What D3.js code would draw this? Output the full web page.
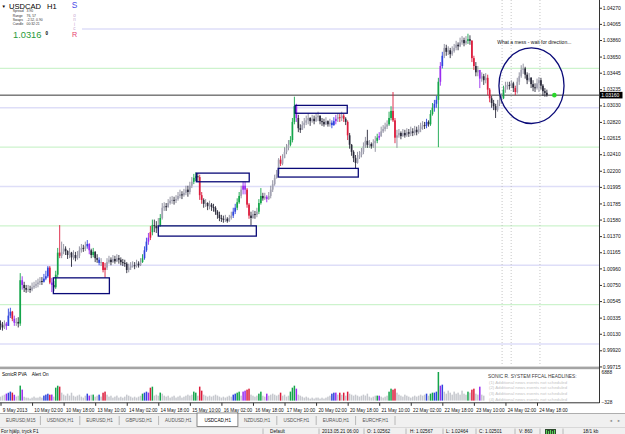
<!DOCTYPE html>
<html><head><meta charset="utf-8">
<script src="https://cdn.jsdelivr.net/npm/d3@7"></script>
<style>
body{margin:0;background:#fff;overflow:hidden}
svg text{font-family:"Liberation Sans",Arial,sans-serif}
</style>
</head><body>
<svg id="c" width="625" height="434"></svg>
<script>
// ---------------- DATA ----------------
const closes = [1.0024,1.0021,1.0026,1.0023,1.0036,1.0041,1.0032,1.0027,1.0028,1.0026,
1.0081,1.0075,1.0071,1.0069,1.0070,1.0069,1.0072,1.0074,1.0076,1.0078,
1.0080,1.0079,1.0083,1.0086,1.0097,1.0078,1.0075,1.0072,1.0088,1.0116,
1.0112,1.0117,1.0121,1.0118,1.0113,1.0116,1.0110,1.0113,1.0109,1.0112,
1.0119,1.0122,1.0121,1.0124,1.0127,1.0119,1.0113,1.0117,1.0109,1.0107,
1.0103,1.0104,1.0094,1.0097,1.0104,1.0107,1.0104,1.0108,1.0105,1.0109,
1.0107,1.0104,1.0103,1.0102,1.0094,1.0097,1.0099,1.0100,1.0099,1.0102,
1.0100,1.0104,1.0109,1.0119,1.0130,1.0135,1.0142,1.0151,1.0150,1.0147,
1.0151,1.0160,1.0173,1.0175,1.0174,1.0179,1.0182,1.0183,1.0182,1.0184,
1.0188,1.0190,1.0189,1.0192,1.0196,1.0193,1.0201,1.0206,1.0211,1.0213,
1.0212,1.0189,1.0183,1.0178,1.0179,1.0175,1.0177,1.0174,1.0173,1.0168,
1.0164,1.0160,1.0159,1.0158,1.0159,1.0156,1.0160,1.0163,1.0168,1.0173,
1.0180,1.0188,1.0196,1.0201,1.0196,1.0177,1.0163,1.0160,1.0165,1.0164,
1.0168,1.0179,1.0188,1.0185,1.0187,1.0184,1.0188,1.0196,1.0203,1.0211,
1.0216,1.0234,1.0229,1.0236,1.0244,1.0249,1.0253,1.0259,1.0282,1.0302,
1.0287,1.0274,1.0272,1.0278,1.0281,1.0284,1.0287,1.0283,1.0286,1.0283,
1.0288,1.0290,1.0283,1.0282,1.0279,1.0283,1.0279,1.0281,1.0278,1.0283,
1.0286,1.0288,1.0287,1.0290,1.0286,1.0282,1.0265,1.0253,1.0244,1.0236,
1.0230,1.0237,1.0240,1.0244,1.0251,1.0258,1.0253,1.0254,1.0251,1.0255,
1.0258,1.0262,1.0264,1.0270,1.0273,1.0276,1.0279,1.0287,1.0296,1.0284,
1.0262,1.0265,1.0268,1.0264,1.0268,1.0265,1.0269,1.0267,1.0270,1.0268,
1.0272,1.0269,1.0273,1.0276,1.0278,1.0277,1.0282,1.0279,1.0292,1.0300,
1.0305,1.0310,1.0333,1.0353,1.0366,1.0376,1.0371,1.0373,1.0368,1.0372,
1.0376,1.0380,1.0378,1.0383,1.0386,1.0382,1.0385,1.0387,1.0385,1.0363,
1.0353,1.0345,1.0348,1.0337,1.0340,1.0335,1.0338,1.0323,1.0312,1.0306,
1.0302,1.0297,1.0305,1.0310,1.0312,1.0323,1.0326,1.0329,1.0328,1.0331,
1.0325,1.0320,1.0333,1.0340,1.0348,1.0350,1.0342,1.0335,1.0338,1.0330,
1.0326,1.0325,1.0331,1.0335,1.0328,1.0321,1.0319,1.0316];
const highs = [1.0030,1.0028,1.0030,1.0028,1.0045,1.0046,1.0042,1.0036,1.0033,1.0034,
1.0090,1.0086,1.0079,1.0075,1.0075,1.0074,1.0078,1.0079,1.0081,1.0083,
1.0085,1.0085,1.0089,1.0093,1.0099,1.0099,1.0084,1.0080,1.0093,1.0122,
1.0151,1.0130,1.0127,1.0124,1.0119,1.0122,1.0117,1.0119,1.0117,1.0118,
1.0124,1.0127,1.0126,1.0130,1.0132,1.0128,1.0121,1.0122,1.0118,1.0114,
1.0110,1.0109,1.0104,1.0103,1.0109,1.0112,1.0110,1.0113,1.0112,1.0114,
1.0113,1.0110,1.0108,1.0107,1.0104,1.0102,1.0104,1.0105,1.0104,1.0107,
1.0105,1.0109,1.0114,1.0124,1.0135,1.0141,1.0150,1.0158,1.0158,1.0156,
1.0160,1.0165,1.0179,1.0180,1.0179,1.0184,1.0187,1.0188,1.0187,1.0189,
1.0193,1.0196,1.0194,1.0197,1.0201,1.0201,1.0206,1.0212,1.0216,1.0218,
1.0217,1.0215,1.0193,1.0185,1.0184,1.0180,1.0182,1.0179,1.0178,1.0175,
1.0170,1.0168,1.0164,1.0163,1.0164,1.0161,1.0164,1.0168,1.0173,1.0178,
1.0185,1.0193,1.0201,1.0206,1.0206,1.0198,1.0179,1.0168,1.0170,1.0169,
1.0173,1.0184,1.0198,1.0192,1.0192,1.0189,1.0193,1.0201,1.0208,1.0215,
1.0221,1.0236,1.0239,1.0241,1.0250,1.0254,1.0259,1.0264,1.0287,1.0314,
1.0305,1.0291,1.0279,1.0283,1.0287,1.0290,1.0293,1.0288,1.0291,1.0290,
1.0293,1.0295,1.0290,1.0287,1.0286,1.0288,1.0284,1.0286,1.0284,1.0288,
1.0291,1.0293,1.0292,1.0295,1.0292,1.0288,1.0284,1.0268,1.0254,1.0246,
1.0240,1.0244,1.0245,1.0249,1.0256,1.0263,1.0272,1.0259,1.0256,1.0260,
1.0264,1.0267,1.0269,1.0276,1.0278,1.0281,1.0284,1.0295,1.0302,1.0320,
1.0287,1.0272,1.0273,1.0270,1.0273,1.0272,1.0274,1.0273,1.0276,1.0274,
1.0277,1.0276,1.0278,1.0281,1.0283,1.0282,1.0286,1.0284,1.0297,1.0306,
1.0310,1.0315,1.0338,1.0358,1.0371,1.0381,1.0380,1.0378,1.0376,1.0378,
1.0381,1.0385,1.0383,1.0389,1.0391,1.0389,1.0391,1.0394,1.0392,1.0386,
1.0366,1.0358,1.0353,1.0348,1.0345,1.0343,1.0344,1.0342,1.0325,1.0315,
1.0310,1.0305,1.0310,1.0315,1.0318,1.0328,1.0333,1.0333,1.0333,1.0335,
1.0333,1.0328,1.0338,1.0345,1.0354,1.0356,1.0352,1.0345,1.0344,1.0339,
1.0335,1.0331,1.0337,1.0339,1.0338,1.0330,1.0325,1.0323];
const lows = [1.0018,1.0017,1.0019,1.0018,1.0023,1.0033,1.0029,1.0023,1.0023,1.0021,
1.0023,1.0069,1.0066,1.0065,1.0066,1.0065,1.0067,1.0070,1.0071,1.0072,
1.0075,1.0075,1.0078,1.0081,1.0084,1.0076,1.0066,1.0067,1.0070,1.0085,
1.0109,1.0109,1.0114,1.0113,1.0108,1.0109,1.0098,1.0107,1.0105,1.0107,
1.0109,1.0116,1.0117,1.0118,1.0121,1.0114,1.0109,1.0110,1.0104,1.0103,
1.0100,1.0099,1.0091,1.0084,1.0094,1.0102,1.0100,1.0103,1.0102,1.0104,
1.0102,1.0100,1.0099,1.0098,1.0090,1.0091,1.0094,1.0097,1.0095,1.0097,
1.0097,1.0099,1.0103,1.0107,1.0117,1.0126,1.0132,1.0138,1.0142,1.0141,
1.0144,1.0149,1.0158,1.0169,1.0169,1.0173,1.0177,1.0178,1.0177,1.0179,
1.0182,1.0185,1.0184,1.0187,1.0189,1.0187,1.0190,1.0198,1.0203,1.0207,
1.0206,1.0183,1.0178,1.0173,1.0174,1.0170,1.0171,1.0169,1.0168,1.0164,
1.0159,1.0156,1.0155,1.0154,1.0155,1.0154,1.0155,1.0158,1.0160,1.0165,
1.0170,1.0178,1.0185,1.0190,1.0190,1.0173,1.0159,1.0151,1.0159,1.0159,
1.0161,1.0165,1.0177,1.0182,1.0183,1.0180,1.0183,1.0185,1.0193,1.0201,
1.0210,1.0212,1.0226,1.0227,1.0236,1.0241,1.0246,1.0251,1.0256,1.0279,
1.0282,1.0269,1.0268,1.0272,1.0274,1.0278,1.0279,1.0277,1.0281,1.0279,
1.0282,1.0283,1.0279,1.0277,1.0276,1.0278,1.0276,1.0276,1.0274,1.0277,
1.0279,1.0282,1.0282,1.0283,1.0282,1.0278,1.0259,1.0248,1.0239,1.0231,
1.0223,1.0229,1.0235,1.0237,1.0241,1.0249,1.0249,1.0249,1.0248,1.0249,
1.0244,1.0255,1.0259,1.0263,1.0268,1.0270,1.0273,1.0277,1.0284,1.0282,
1.0255,1.0249,1.0262,1.0260,1.0263,1.0262,1.0263,1.0263,1.0264,1.0264,
1.0265,1.0265,1.0267,1.0269,1.0272,1.0273,1.0274,1.0276,1.0277,1.0290,
1.0295,1.0300,1.0250,1.0328,1.0350,1.0363,1.0366,1.0367,1.0363,1.0366,
1.0370,1.0373,1.0373,1.0377,1.0380,1.0378,1.0380,1.0381,1.0380,1.0358,
1.0348,1.0340,1.0340,1.0325,1.0333,1.0329,1.0331,1.0316,1.0307,1.0300,
1.0297,1.0287,1.0295,1.0302,1.0305,1.0311,1.0319,1.0323,1.0323,1.0325,
1.0320,1.0316,1.0318,1.0329,1.0338,1.0343,1.0337,1.0330,1.0333,1.0325,
1.0321,1.0320,1.0323,1.0320,1.0323,1.0315,1.0314,1.0314];
const firstOpen = 1.0026;
// SonicR PVA bar colouring: g climax bull, r climax bear, b rising bull, p rising bear
const pvaMarks = {3:'p',4:'b',5:'b',6:'r',7:'p',10:'g',11:'p',22:'b',23:'b',24:'b',25:'r',26:'p',28:'g',29:'g',30:'r',
44:'b',45:'p',47:'g',50:'b',52:'r',53:'r',72:'g',73:'b',74:'b',75:'p',76:'r',77:'g',81:'g',98:'g',99:'g',101:'r',102:'r',
118:'b',119:'b',120:'g',121:'g',123:'p',124:'p',125:'r',126:'r',131:'g',132:'g',135:'p',142:'r',147:'g',148:'g',149:'g',150:'p',
168:'b',169:'b',170:'p',172:'r',174:'r',176:'r',191:'g',192:'p',197:'g',198:'g',199:'r',200:'r',216:'b',218:'g',219:'g',
220:'b',221:'b',222:'g',223:'p',224:'b',237:'g',239:'r',240:'r',243:'p',247:'r',248:'r',255:'g',261:'r'};
const volumes = [950,1210,1430,1690,1900,2170,1930,1420,980,1190,
3610,2650,940,730,700,490,720,980,700,730,
960,720,1210,1450,1670,1430,1460,970,3120,3590,
3370,1920,1450,1190,1680,1210,1910,1180,950,1210,
1440,960,720,1190,1680,1210,1430,1450,960,1200,
1440,980,1910,2170,1430,970,1190,720,960,1210,
730,950,710,960,1440,1190,970,720,950,730,
960,1190,1680,1920,2160,1930,3120,3360,1210,1440,
1190,1930,1680,1200,960,1190,720,960,1190,730,
960,1200,720,950,1190,1440,1210,1430,2170,1920,
1200,3370,2400,1440,1190,960,1200,960,1190,1440,
1210,960,720,950,730,960,1190,960,1440,1680,
1920,2160,1200,2170,2400,2650,2880,1440,1190,960,
1210,1680,2160,1190,960,1680,1200,1440,1680,1430,
1200,1440,1920,1190,1440,960,1200,2170,3120,3600,
2880,1440,1200,960,720,960,730,480,720,490,
720,730,480,710,490,720,960,1200,1680,1920,
1930,1440,1910,1430,1920,1200,2160,1680,1440,1190,
1440,1200,960,1190,1440,1210,1680,960,720,960,
1200,1210,1190,960,720,960,1200,2160,2880,2640,
2880,1920,1440,1200,960,1440,1190,960,720,960,
1200,960,1190,1440,1200,1440,1680,1190,1680,1920,
1930,2160,6888,3600,3840,2160,1680,2400,1920,1440,
2170,1680,1920,1440,2400,1680,1430,2160,1920,2640,
2880,1680,1440,3360,1440,1200];
const priceTicks = [1.04270,1.04065,1.03860,1.03650,1.03445,1.03235,1.03030,1.02820,1.02615,1.02410,1.02200,
1.01995,1.01785,1.01580,1.01370,1.01165,1.00960,1.00750,1.00545,1.00335,1.00130,0.99920,0.99715];
const gridLevels = [1.0000,1.0050,1.0100,1.0150,1.0200,1.0250,1.0300,1.0350,1.0400];
const timeLabels = ["9 May 2013","10 May 02:00","10 May 18:00","13 May 10:00","14 May 02:00","14 May 18:00",
"15 May 10:00","16 May 02:00","16 May 18:00","17 May 10:00","20 May 02:00","20 May 18:00","21 May 10:00",
"22 May 02:00","22 May 18:00","23 May 10:00","24 May 02:00","24 May 18:00"];
const labelEvery = 16;
const currentPrice = 1.03160;
const volTicks = [6888,-328];
// analyst boxes: [startBar, endBar, topPrice, bottomPrice]
const boxes = [[26.8,55.2,1.0084,1.0064],[80,129.7,1.0150,1.0137],[99.3,126.1,1.0217,1.0206],
[140.8,181.4,1.0223,1.0212],[149.4,175.8,1.0303,1.0293]];
const ellipseMark = {bar:269.2, price:1.0328, halfBars:16.5, halfPrice:0.0048};
const note = {bar:251.8, price:1.0381, text:"What a mess - wait for direction..."};
const signalDot = {bar:280.8, price:1.0316};
const sessionLines = [254.3, 258.9, 273.5];
const tabs = ["EURUSD,M15","USDNOK,H1","EURUSD,H1","GBPUSD,H1","AUDUSD,H1","USDCAD,H1","NZDUSD,H1","USDCHF,H1","EURAUD,H1","EURCHF,H1"];
const activeTab = "USDCAD,H1";
const infoRows = [["Spread","3.90"],["Range","76, 57"],["Swaps","-2.52, 0.90"],["Candle","00:32:21"]];
const headlines = ["(1) Additional news events not scheduled","(2) Additional news events not scheduled",
"(3) Additional news events not scheduled","(4) Additional news events not scheduled"];
const statusFields = [["For hjälp, tryck F1",1],["Default",270],["2013.05.21 06:00",322],["O: 1.02562",367],
["H: 1.02567",410],["L: 1.02464",446],["C: 1.02501",479],["V: 860",519],["18/1 kb",583]];
const statusSeps = [263,319,364,406,443,476,515,540,563];

// ---------------- DRAW ----------------
const svg = d3.select('#c');
const x = d3.scaleLinear().domain([0,272]).range([0.5,537]);
const y = d3.scaleLinear().domain([1.0000,1.0400]).range([344,29]);
const vy = d3.scaleLinear().domain([-328,6888]).range([402,372]);
const AX = 599;
const col = {g:'#14a54a', r:'#dc1c3c', b:'#2f45dc', p:'#9a2cf0'};

svg.append('rect').attr('width',625).attr('height',434).attr('fill','#fff');
svg.append('clipPath').attr('id','pc').append('rect').attr('x',0).attr('y',0).attr('width',AX).attr('height',366);

const pane = svg.append('g').attr('clip-path','url(#pc)');
// grid levels
pane.selectAll('line.grid').data(gridLevels).join('line')
  .attr('x1',0).attr('x2',AX).attr('y1',d=>y(d)).attr('y2',d=>y(d))
  .attr('stroke',(d,i)=> i%2===0 ? '#dedef8' : '#cdf3cd').attr('stroke-width',1.4);
// session lines
pane.selectAll('line.sess').data(sessionLines).join('line')
  .attr('x1',d=>x(d)).attr('x2',d=>x(d)).attr('y1',0).attr('y2',366)
  .attr('stroke','#b8b8b8').attr('stroke-width',0.8).attr('stroke-dasharray','1,2');
// current price line
pane.append('line').attr('x1',0).attr('x2',AX).attr('y1',y(currentPrice)).attr('y2',y(currentPrice))
  .attr('stroke','#202020').attr('stroke-width',0.9);

// candles
const bars = closes.map((c,i)=>{
  const o = i ? closes[i-1] : firstOpen;
  return {i, o, c, h:Math.max(highs[i],o,c), l:Math.min(lows[i],o,c), k:pvaMarks[i]};
});
const barColor = d => d.k ? col[d.k] : (d.c>=d.o ? '#a2a2b2' : '#2a2a3a');
const cg = pane.append('g');
cg.selectAll('line').data(bars).join('line')
  .attr('x1',d=>x(d.i)).attr('x2',d=>x(d.i)).attr('y1',d=>y(d.h)).attr('y2',d=>y(d.l))
  .attr('stroke',d=> d.k ? col[d.k] : (d.c>=d.o ? '#8a8a9a' : '#2a2a3a')).attr('stroke-width',0.9);
cg.selectAll('rect').data(bars).join('rect')
  .attr('x',d=>x(d.i)-0.85).attr('width',1.7)
  .attr('y',d=>y(Math.max(d.o,d.c))).attr('height',d=>Math.max(1,y(Math.min(d.o,d.c))-y(Math.max(d.o,d.c))))
  .attr('fill',barColor);

// boxes
pane.selectAll('rect.box').data(boxes).join('rect')
  .attr('x',d=>x(d[0])).attr('width',d=>x(d[1])-x(d[0]))
  .attr('y',d=>y(d[2])).attr('height',d=>y(d[3])-y(d[2]))
  .attr('fill','none').attr('stroke','#0a0a78').attr('stroke-width',1.3);
// ellipse
pane.append('ellipse').attr('cx',x(ellipseMark.bar)).attr('cy',y(ellipseMark.price))
  .attr('rx',x(ellipseMark.bar+ellipseMark.halfBars)-x(ellipseMark.bar))
  .attr('ry',y(ellipseMark.price-ellipseMark.halfPrice)-y(ellipseMark.price))
  .attr('fill','none').attr('stroke','#0a0a78').attr('stroke-width',1.3);
pane.append('text').attr('x',x(note.bar)).attr('y',y(note.price)).attr('font-size',5).attr('fill','#111').text(note.text);
pane.append('circle').attr('cx',x(signalDot.bar)).attr('cy',y(signalDot.price)).attr('r',2.3).attr('fill','#2bd62b');

// info panel (top-left)
pane.append('rect').attr('x',0).attr('y',0).attr('width',82).attr('height',46).attr('fill','#fff');
const info = svg.append('g');
info.append('text').attr('x',1.5).attr('y',7.5).attr('font-size',4.5).text('▼');
info.append('text').attr('x',9).attr('y',8.8).attr('font-size',7.6).text('USDCAD');
info.append('text').attr('x',47).attr('y',8.8).attr('font-size',7.6).text('H1');
infoRows.forEach((r,i)=>{
  info.append('text').attr('x',12.7).attr('y',12.4+i*4.3).attr('font-size',3.4).attr('fill','#333').text(r[0]);
  info.append('text').attr('x',26.5).attr('y',12.4+i*4.3).attr('font-size',3.4).attr('fill','#333').text(r[1]);
});
info.append('text').attr('x',13).attr('y',37.6).attr('font-size',9.3).attr('fill','#1f9a3a').text('1.0316');
info.append('text').attr('x',45.5).attr('y',35).attr('font-size',4.6).attr('font-weight','bold').text('0');
const sonic = [['S',7.6,8.4,'#4a4ae6'],['o',16.6,4.6,'#c8a6d2'],['n',21.2,4.6,'#c8a6d2'],['i',25.6,4.6,'#c8a6d2'],['c',29.8,4.6,'#c8a6d2'],['R',36.8,7.2,'#e6406e']];
sonic.forEach(s=> info.append('text').attr('x',74.5).attr('y',s[1]).attr('font-size',s[2]).attr('text-anchor','middle').attr('fill',s[3]).text(s[0]));

// separator between panes
svg.append('rect').attr('x',0).attr('y',366.6).attr('width',AX+1).attr('height',2.6).attr('fill','#a4a4a4');

// volume pane
const vg = svg.append('g');
vg.selectAll('rect').data(volumes).join('rect')
  .attr('x',(d,i)=>x(i)-0.75).attr('width',1.5)
  .attr('y',d=>vy(d)).attr('height',d=>vy(0)-vy(d))
  .attr('fill',(d,i)=> pvaMarks[i] ? col[pvaMarks[i]] : '#c6c8ce');
vg.append('text').attr('x',2).attr('y',376).attr('font-size',4.6).text('SonicR PVA');
vg.append('text').attr('x',31.7).attr('y',376).attr('font-size',4.6).text('Alert On');
vg.append('text').attr('x',488).attr('y',378).attr('font-size',4.8).attr('fill','#3a3a3a').text('SONIC R. SYSTEM  FFCAL HEADLINES:');
headlines.forEach((h,i)=> vg.append('text').attr('x',489).attr('y',383.8+i*5.6).attr('font-size',4.3).attr('fill','#c4c4c4').text(h));

// right axis line
svg.append('line').attr('x1',AX+0.5).attr('x2',AX+0.5).attr('y1',0).attr('y2',403).attr('stroke','#333');
// price axis
const pa = svg.append('g').attr('transform',`translate(${AX+0.5},0)`)
  .call(d3.axisRight(y).tickValues(priceTicks).tickFormat(d3.format('.5f')).tickSize(2.5).tickPadding(0.8));
pa.select('.domain').remove();
pa.selectAll('text').attr('font-size',5).attr('font-family','"Liberation Sans",Arial,sans-serif').attr('fill','#111');
pa.selectAll('line').attr('stroke','#333');
// current price tag
svg.append('rect').attr('x',AX+1).attr('y',y(currentPrice)-3.3).attr('width',22.5).attr('height',6.6).attr('fill','#000');
svg.append('text').attr('x',AX+2.3).attr('y',y(currentPrice)+1.8).attr('font-size',5).attr('fill','#fff').text(d3.format('.5f')(currentPrice));
// volume axis
const va = svg.append('g').attr('transform',`translate(${AX+0.5},0)`)
  .call(d3.axisRight(vy).tickValues(volTicks).tickFormat(d3.format('d')).tickSize(0).tickPadding(2));
va.select('.domain').remove();
va.selectAll('text').attr('font-size',4.8).attr('font-family','"Liberation Sans",Arial,sans-serif').attr('fill','#111');

// time axis
svg.append('line').attr('x1',0).attr('x2',AX+0.5).attr('y1',402.8).attr('y2',402.8).attr('stroke','#333');
const ta = svg.append('g').attr('transform','translate(0,402.8)')
  .call(d3.axisBottom(x).tickValues(timeLabels.map((t,i)=>i*labelEvery)).tickFormat((d,i)=>timeLabels[i]).tickSize(3).tickPadding(2.5));
ta.select('.domain').remove();
ta.selectAll('text').attr('text-anchor','start').attr('dx',1.8).attr('font-size',4.7)
  .attr('font-family','"Liberation Sans",Arial,sans-serif').attr('fill','#111');
ta.selectAll('line').attr('stroke','#333');

// tab strip
svg.append('rect').attr('x',0).attr('y',413.5).attr('width',625).attr('height',14).attr('fill','#f0f0f0');
svg.append('line').attr('x1',0).attr('x2',625).attr('y1',413.5).attr('y2',413.5).attr('stroke','#9a9a9a').attr('stroke-width',0.8);
const tw = 39.4;
tabs.forEach((t,i)=>{
  const x0 = 1 + i*tw;
  if (t===activeTab){
    svg.append('rect').attr('x',x0-1).attr('y',413).attr('width',tw+1.5).attr('height',13.5).attr('fill','#fff').attr('stroke','#6a6a6a').attr('stroke-width',0.8);
  } else {
    svg.append('line').attr('x1',x0+tw).attr('x2',x0+tw).attr('y1',416).attr('y2',425).attr('stroke','#a8a8a8').attr('stroke-width',0.8);
  }
  svg.append('text').attr('x',x0+tw/2).attr('y',421.6).attr('text-anchor','middle').attr('font-size',4.6)
    .attr('fill', t===activeTab ? '#000' : '#555').text(t);
});
svg.append('text').attr('x',609).attr('y',421.5).attr('font-size',3.8).attr('fill','#888').text('◄');
svg.append('text').attr('x',617).attr('y',421.5).attr('font-size',3.8).attr('fill','#888').text('►');

// status bar
svg.append('rect').attr('x',0).attr('y',427.5).attr('width',625).attr('height',7).attr('fill','#f0f0f0');
svg.append('line').attr('x1',0).attr('x2',625).attr('y1',427.5).attr('y2',427.5).attr('stroke','#d0d0d0').attr('stroke-width',0.8);
statusSeps.forEach(s=> svg.append('line').attr('x1',s).attr('x2',s).attr('y1',428.5).attr('y2',434).attr('stroke','#a8a8a8').attr('stroke-width',0.8));
statusFields.forEach(f=> svg.append('text').attr('x',f[1]).attr('y',433.4).attr('font-size',4.7).attr('fill','#111').text(f[0]));
const icon = svg.append('g');
icon.append('rect').attr('x',545).attr('y',429).attr('width',11).attr('height',5).attr('fill','#2d4a2d');
[546,548,550,552,554].forEach((xx,i)=> icon.append('rect').attr('x',xx).attr('y',430+ (i%2)).attr('width',1).attr('height',4-(i%2)).attr('fill','#5ad25a'));
</script>
</body></html>
